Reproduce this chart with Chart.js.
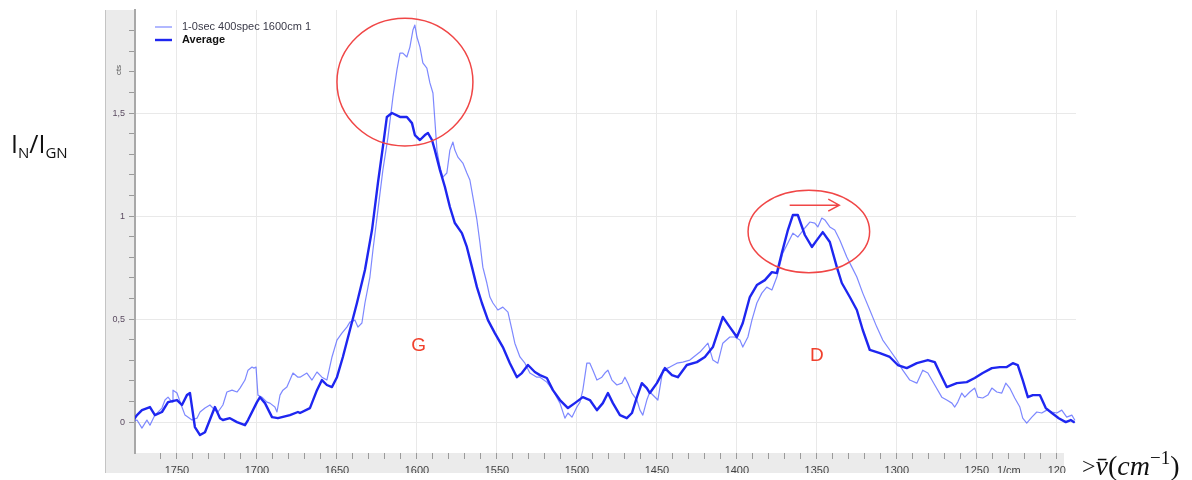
<!DOCTYPE html>
<html>
<head>
<meta charset="utf-8">
<script src="https://cdn.jsdelivr.net/npm/chart.js@4.4.1/dist/chart.umd.min.js"></script>
<style>
html, body { margin: 0; background: #fff; }
</style>
</head>
<body>
<canvas id="c" width="1192" height="480"></canvas>
<script>
// series (wavenumber in 1/cm, intensity in cts)
const seriesNames = ['1-0sec 400spec 1600cm 1', 'Average'];

const spectrumX = [1779.4, 1775.0, 1771.9, 1768.8, 1766.9, 1763.8, 1759.4, 1757.5, 1755.6, 1753.1, 1752.5, 1750.0, 1746.9, 1745.0, 1740.6, 1737.5, 1735.6, 1732.5, 1729.4, 1726.3, 1724.4, 1721.3, 1718.8, 1715.6, 1712.5, 1710.6, 1707.5, 1705.6, 1703.1, 1701.9, 1700.6, 1699.4, 1696.9, 1693.8, 1691.9, 1688.8, 1687.5, 1685.6, 1683.8, 1681.3, 1677.5, 1674.4,
  1673.1, 1668.8, 1665.6, 1662.5, 1659.4, 1656.3, 1653.1, 1650.0, 1646.9, 1643.8, 1641.9, 1638.8, 1636.9, 1634.4, 1632.5, 1629.4, 1627.5, 1624.4, 1621.3, 1618.1, 1615.0, 1612.5, 1610.6, 1608.8, 1606.3, 1604.4, 1602.5, 1601.3, 1600.0, 1598.1, 1596.3, 1593.8, 1591.9, 1590.0, 1588.8, 1587.5, 1585.6, 1583.8, 1581.3, 1579.4, 1577.5, 1576.3, 1574.4, 1571.3, 1568.8, 1566.9, 1565.0, 1562.5, 1560.6, 1558.8, 1556.3, 1554.4, 1552.5, 1549.4, 1546.3, 1543.1, 1540.6, 1538.8, 1535.6, 1532.5, 1529.4, 1525.0,
  1523.1, 1518.8, 1515.0, 1510.6, 1507.5, 1505.6, 1503.1, 1500.0, 1498.1, 1496.3, 1493.8, 1491.9, 1490.0, 1487.5, 1484.4, 1482.5, 1480.6, 1478.1, 1475.0, 1471.9, 1470.0, 1468.1, 1465.6, 1462.5, 1460.6, 1458.8, 1456.3,
  1454.4, 1449.4, 1446.3, 1441.9, 1437.5, 1433.8, 1429.4, 1423.1, 1418.1, 1415.0, 1411.9, 1408.8, 1404.4, 1401.3, 1398.1, 1396.3, 1393.1, 1390.6, 1387.5, 1384.4, 1381.3, 1378.1, 1375.0, 1371.3, 1368.1, 1365.0, 1361.9, 1357.5, 1354.4, 1351.3, 1349.4, 1346.9, 1345.0, 1341.9, 1338.8, 1335.6, 1331.3, 1328.1, 1325.0, 1321.3, 1316.9, 1312.5, 1308.8, 1304.4, 1300.0, 1296.3, 1291.9, 1287.5, 1283.8, 1280.6,
  1276.3, 1271.9, 1268.8, 1265.6, 1263.8, 1261.9, 1259.4, 1257.5, 1254.4, 1251.3, 1249.4, 1246.3, 1243.1, 1240.6, 1237.5, 1234.4, 1231.9, 1229.4, 1226.3, 1223.1, 1221.3, 1218.8, 1215.6, 1212.5, 1209.4, 1206.3, 1203.1, 1200.0, 1196.9, 1193.8, 1190.6, 1188.8];
const spectrumY = [-0.005, 0.010, -0.029, 0.010, -0.015, 0.034, 0.068, 0.107, 0.121, 0.097, 0.155, 0.141, 0.073, 0.034, 0.010, 0.019, 0.049, 0.068, 0.083, 0.058, 0.049, 0.083, 0.146, 0.155, 0.146, 0.165, 0.204, 0.252, 0.267, 0.262, 0.267, 0.131, 0.121, 0.097, 0.092, 0.073, 0.049, 0.131, 0.155, 0.170, 0.238, 0.218,
  0.218, 0.238, 0.204, 0.243, 0.218, 0.204, 0.316, 0.398, 0.432, 0.461, 0.485, 0.495, 0.461, 0.481, 0.578, 0.704, 0.835, 1.029, 1.223, 1.383, 1.578, 1.709, 1.791, 1.791, 1.772, 1.820, 1.903, 1.927, 1.869, 1.820, 1.743, 1.718, 1.646, 1.597, 1.466, 1.320, 1.238, 1.189, 1.209, 1.320, 1.359, 1.320, 1.286, 1.257, 1.209, 1.175, 1.092, 0.981, 0.869, 0.752, 0.675, 0.607, 0.578, 0.544, 0.558, 0.534, 0.447, 0.383, 0.316, 0.286, 0.238, 0.218,
  0.218, 0.194, 0.155, 0.092, 0.019, 0.044, 0.024, 0.073, 0.097, 0.155, 0.286, 0.286, 0.252, 0.204, 0.218, 0.238, 0.252, 0.204, 0.180, 0.189, 0.218, 0.189, 0.141, 0.107, 0.058, 0.034, 0.107,
  0.146, 0.107, 0.252, 0.267, 0.286, 0.291, 0.301, 0.340, 0.383, 0.301, 0.286, 0.383, 0.413, 0.413, 0.398, 0.364, 0.413, 0.495, 0.578, 0.626, 0.655, 0.641, 0.704, 0.820, 0.869, 0.917, 0.898, 0.942, 0.971, 0.966, 0.947, 0.990, 0.981, 0.947, 0.932, 0.883, 0.801, 0.752, 0.704, 0.626, 0.544, 0.461, 0.398, 0.350, 0.301, 0.252, 0.204, 0.189, 0.252, 0.238,
  0.180, 0.121, 0.107, 0.092, 0.073, 0.097, 0.141, 0.121, 0.146, 0.165, 0.121, 0.117, 0.131, 0.165, 0.146, 0.141, 0.189, 0.165, 0.117, 0.073, 0.019, -0.005, 0.024, 0.049, 0.044, 0.058, 0.049, 0.044, 0.058, 0.024, 0.034, 0.010];

const averageX = [1779.4, 1775.0, 1771.9, 1766.9, 1763.8, 1759.4, 1755.6, 1750.0, 1746.9, 1743.8, 1741.9, 1738.8, 1735.6, 1732.5, 1726.3, 1723.1, 1721.3, 1716.9, 1712.5, 1707.5, 1705.6, 1700.0, 1698.1, 1695.0, 1690.6, 1686.9, 1679.4, 1674.4,
  1673.1, 1666.9, 1662.5, 1659.4, 1656.3, 1653.1, 1650.0, 1646.3, 1641.9, 1637.5, 1632.5, 1628.1, 1624.4, 1621.3, 1618.8, 1615.6, 1610.6, 1606.3, 1603.1, 1601.3, 1598.1, 1595.0, 1593.1, 1590.6, 1588.8, 1585.6, 1582.5, 1579.4, 1576.3, 1571.9, 1568.8, 1565.6, 1562.5, 1559.4, 1555.6, 1551.3, 1546.3, 1541.9, 1537.5, 1534.4, 1530.6, 1526.3,
  1523.1, 1518.8, 1515.0, 1510.6, 1505.6, 1501.3, 1496.3, 1491.9, 1487.5, 1483.8, 1480.6, 1477.5, 1473.1, 1468.8, 1465.6, 1462.5, 1459.4, 1456.3,
  1454.4, 1450.0, 1445.0, 1440.6, 1436.9, 1431.3, 1425.0, 1420.0, 1415.0, 1408.8, 1404.4, 1400.0, 1396.3, 1391.9, 1387.5, 1382.5, 1378.1, 1375.0, 1371.9, 1368.1, 1365.0, 1361.9, 1357.5, 1353.1, 1350.0, 1346.3, 1341.9, 1337.5, 1334.4, 1329.4, 1325.0, 1321.3, 1316.9, 1310.6, 1304.4, 1299.4, 1293.8, 1287.5, 1280.6,
  1276.3, 1273.1, 1268.8, 1262.5, 1256.3, 1251.3, 1246.3, 1240.6, 1235.6, 1231.3, 1227.5, 1224.4, 1221.3, 1218.1, 1215.0, 1210.6, 1206.9, 1203.1, 1198.8, 1194.4, 1191.3, 1189.4];
const averageY = [-0.015, 0.034, 0.058, 0.073, 0.034, 0.049, 0.097, 0.107, 0.083, 0.131, 0.141, -0.024, -0.063, -0.049, 0.073, 0.019, 0.010, 0.019, 0.000, -0.015, 0.010, 0.097, 0.121, 0.092, 0.024, 0.019, 0.034, 0.049,
  0.044, 0.068, 0.155, 0.204, 0.180, 0.170, 0.218, 0.316, 0.447, 0.578, 0.738, 0.932, 1.160, 1.335, 1.481, 1.500, 1.481, 1.481, 1.451, 1.393, 1.369, 1.393, 1.403, 1.369, 1.320, 1.223, 1.141, 1.044, 0.966, 0.917, 0.850, 0.752, 0.655, 0.578, 0.495, 0.432, 0.364, 0.286, 0.218, 0.238, 0.277, 0.243,
  0.228, 0.214, 0.155, 0.107, 0.068, 0.092, 0.121, 0.107, 0.058, 0.092, 0.141, 0.092, 0.034, 0.019, 0.044, 0.121, 0.189, 0.165,
  0.141, 0.189, 0.262, 0.228, 0.218, 0.277, 0.291, 0.316, 0.364, 0.510, 0.461, 0.413, 0.481, 0.607, 0.665, 0.689, 0.728, 0.723, 0.820, 0.932, 1.005, 1.005, 0.908, 0.850, 0.883, 0.922, 0.874, 0.752, 0.675, 0.607, 0.544, 0.447, 0.350, 0.335, 0.316, 0.277, 0.262, 0.286, 0.301,
  0.291, 0.238, 0.170, 0.189, 0.194, 0.214, 0.238, 0.262, 0.267, 0.267, 0.286, 0.277, 0.204, 0.121, 0.131, 0.131, 0.068, 0.044, 0.019, 0.000, 0.010, 0.000];

// tick labels
const xTickValues = [1750, 1700, 1650, 1600, 1550, 1500, 1450, 1400, 1350, 1300, 1250, 1230, 1200];
const xTickLabels = ['1750', '1700', '1650', '1600', '1550', '1500', '1450', '1400', '1350', '1300', '1250', '1/cm', '120'];
const xGridValues = [1750, 1700, 1650, 1600, 1550, 1500, 1450, 1400, 1350, 1300, 1250, 1200];
const yTickValues = [0, 0.5, 1, 1.5];
const yTickLabels = ['0', '0,5', '1', '1,5'];

// annotations (data units)
const peakNames = ['G', 'D'];
const peakLabelX = [1599, 1350];
const peakLabelY = [0.37, 0.32];
const circles = [[1607.5, 1.65, 42.5, 0.31], [1355, 0.925, 38, 0.2]];
const shiftArrow = [1367, 1336, 1.053];

const near = (a, b) => Math.abs(a - b) < 1e-6;
const idxOf = (arr, v) => arr.findIndex(t => near(t, v));

const toPoints = (xs, ys) => xs.map((x, i) => ({ x: x, y: ys[i] }));

const decor = {
  id: 'decor',
  beforeDraw(chart) {
    const ctx = chart.ctx, a = chart.chartArea;
    ctx.save();
    ctx.fillStyle = '#ebebeb';
    ctx.fillRect(105, a.top, a.left - 105, 473 - a.top);
    ctx.fillRect(105, a.bottom, 1064 - 105, 20);
    ctx.strokeStyle = '#c4c4c4'; ctx.lineWidth = 1;
    ctx.beginPath(); ctx.moveTo(105.5, a.top); ctx.lineTo(105.5, 473); ctx.stroke();
    ctx.restore();
  },
  afterDraw(chart) {
    const ctx = chart.ctx, xs = chart.scales.x, ys = chart.scales.y;
    ctx.save();

    // the source picture is cut just under the axis band
    ctx.fillStyle = '#fff';
    ctx.fillRect(0, 473, 1078, 7);

    // unit on y band
    ctx.save();
    ctx.translate(119, 70); ctx.rotate(-Math.PI / 2);
    ctx.fillStyle = '#555'; ctx.font = '8px "Liberation Sans", Arial';
    ctx.textAlign = 'center'; ctx.textBaseline = 'middle';
    ctx.fillText('cts', 0, 0);
    ctx.restore();

    // legend
    chart.data.datasets.forEach((ds, i) => {
      const y = 27 + i * 13;
      ctx.strokeStyle = ds.borderColor; ctx.lineWidth = ds.borderWidth;
      ctx.beginPath(); ctx.moveTo(155, y); ctx.lineTo(172, y); ctx.stroke();
      ctx.fillStyle = i === 0 ? '#3a3a48' : '#111';
      ctx.font = (i === 0 ? '' : 'bold ') + '11px "Liberation Sans", Arial';
      ctx.textBaseline = 'middle'; ctx.textAlign = 'left';
      ctx.fillText(ds.label, 182, y);
    });

    // red circles + arrow
    ctx.strokeStyle = '#f04646'; ctx.lineWidth = 1.5;
    circles.forEach(c => {
      const cx = xs.getPixelForValue(c[0]), cy = ys.getPixelForValue(c[1]);
      const rx = Math.abs(xs.getPixelForValue(c[0] - c[2]) - cx);
      const ry = Math.abs(ys.getPixelForValue(c[1] + c[3]) - cy);
      ctx.beginPath(); ctx.ellipse(cx, cy, rx, ry, 0, 0, Math.PI * 2); ctx.stroke();
    });
    const ax0 = xs.getPixelForValue(shiftArrow[0]), ax1 = xs.getPixelForValue(shiftArrow[1]), ay = ys.getPixelForValue(shiftArrow[2]);
    ctx.beginPath();
    ctx.moveTo(ax0, ay); ctx.lineTo(ax1, ay);
    ctx.moveTo(ax1 - 11, ay - 6); ctx.lineTo(ax1, ay); ctx.lineTo(ax1 - 11, ay + 6);
    ctx.stroke();

    // peak letters
    ctx.fillStyle = '#f0402c'; ctx.font = '19px "Liberation Sans", Arial';
    ctx.textAlign = 'center'; ctx.textBaseline = 'middle';
    peakNames.forEach((n, i) => ctx.fillText(n, xs.getPixelForValue(peakLabelX[i]), ys.getPixelForValue(peakLabelY[i])));

    // y label  I_N / I_GN
    ctx.fillStyle = '#111'; ctx.textAlign = 'left'; ctx.textBaseline = 'alphabetic';
    let x = 11;
    const part = (t, size, dy) => { ctx.font = size + 'px "Open Sans", "DejaVu Sans", sans-serif'; ctx.fillText(t, x, 153 + dy); x += ctx.measureText(t).width; };
    part('I', 25, 0); part('N', 15, 5); part('/', 25, 0); part('I', 25, 0); part('GN', 15, 5);

    // x label  >v̄(cm^-1)
    x = 1082;
    const part2 = (t, font, dy) => { ctx.font = font; ctx.fillText(t, x, 475 + dy); x += ctx.measureText(t).width; };
    part2('>', '24px "Liberation Serif"', -1);
    part2('v\u0304', 'italic 28px "Liberation Serif"', 0);
    part2('(', '28px "Liberation Serif"', 0);
    part2('cm', 'italic 28px "Liberation Serif"', 0);
    part2('\u22121', '19px "Liberation Serif"', -11);
    part2(')', '28px "Liberation Serif"', 0);

    ctx.restore();
  }
};

new Chart(document.getElementById('c'), {
  type: 'line',
  data: {
    datasets: [
      { label: seriesNames[0], data: toPoints(spectrumX, spectrumY), borderColor: 'rgba(75,90,255,0.72)', borderWidth: 1.2, pointRadius: 0, order: 1 },
      { label: seriesNames[1], data: toPoints(averageX, averageY), borderColor: '#1e26f0', borderWidth: 2.4, pointRadius: 0, order: 0 }
    ]
  },
  options: {
    responsive: false, animation: false,
    layout: { padding: { left: 105, right: 116, top: 10, bottom: 7 } },
    plugins: { legend: { display: false }, tooltip: { enabled: false } },
    elements: { line: { tension: 0, borderJoinStyle: 'round', borderCapStyle: 'round' } },
    scales: {
      x: {
        type: 'linear', reverse: true, min: 1188, max: 1776.25,
        afterFit: s => { s.height = 20; },
        border: { display: false },
        grid: {
          color: c => idxOf(xGridValues, c.tick.value) >= 0 ? '#e9e9e9' : 'rgba(0,0,0,0)',
          tickColor: c => (c.tick.value % 10 === 0) ? '#9a9a9a' : 'rgba(0,0,0,0)',
          tickLength: 6, drawTicks: true
        },
        ticks: {
          stepSize: 10, autoSkip: false, maxRotation: 0, minRotation: 0, padding: 5,
          color: '#444', font: { family: '"Liberation Sans", Arial', size: 11 },
          callback: v => { const i = idxOf(xTickValues, v); return i >= 0 ? xTickLabels[i] : ''; }
        }
      },
      y: {
        min: -0.15, max: 2.0,
        afterFit: s => { s.width = 30; },
        border: { display: true, color: '#a8a8a8', width: 2 },
        grid: {
          color: c => idxOf(yTickValues, c.tick.value) >= 0 ? '#e9e9e9' : 'rgba(0,0,0,0)',
          tickColor: c => near(c.tick.value, -0.15) || near(c.tick.value, 2) ? 'rgba(0,0,0,0)' : '#9a9a9a',
          tickLength: 6, drawTicks: true
        },
        ticks: {
          stepSize: 0.1, autoSkip: false, padding: 4,
          color: '#5a4a60', font: { family: '"Liberation Sans", Arial', size: 9 },
          callback: v => { const i = idxOf(yTickValues, v); return i >= 0 ? yTickLabels[i] : ''; }
        }
      }
    }
  },
  plugins: [decor]
});
</script>
</body>
</html>
